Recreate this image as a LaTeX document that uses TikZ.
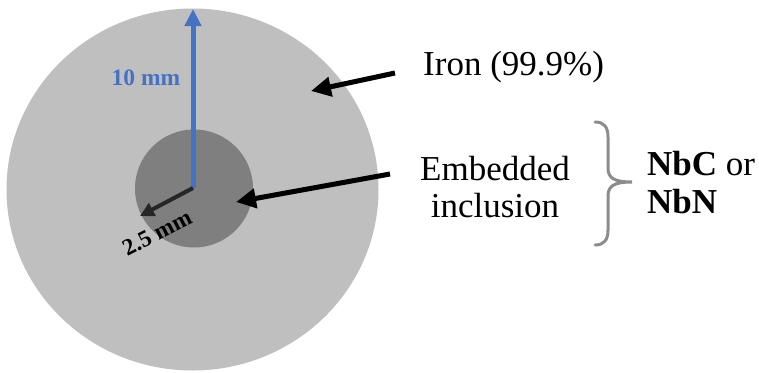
\documentclass[tikz,border=0pt]{standalone}
\usepackage{fontspec}
\setmainfont{Liberation Serif}
\usetikzlibrary{arrows.meta}
\definecolor{outergray}{HTML}{BFBFBF}
\definecolor{innergray}{HTML}{7F7F7F}
\definecolor{bracegray}{HTML}{8C8C8C}
\definecolor{dimblue}{HTML}{4472C4}
\begin{document}
\begin{tikzpicture}[x=1pt,y=-1pt,
  bigtext/.style={font=\fontsize{35}{37}\selectfont, inner sep=0pt},
  pointer/.style={line width=5pt, -{Triangle[length=20pt,width=19pt]}},
  dimtext/.style={font=\fontsize{23.5}{25}\selectfont\bfseries, inner sep=0pt}]
\useasboundingbox (0,0) rectangle (759,372);
% circles
\fill[outergray] (192.5,189.5) ellipse [x radius=186, y radius=181];
\node[circle, fill=innergray, minimum size=118pt, inner sep=0pt] (incl) at (194,188.5) {};
\coordinate (c) at (193,188);
\coordinate (top) at (193,9);
\coordinate (rim) at (140,216);
% dimensions
\draw[dimblue, line width=5pt, -{Triangle[length=17pt,width=16pt]}] (c) -- (top);
\draw[black!85, line width=4pt, -{Triangle[length=14pt,width=14pt]}] (c) -- (rim);
\node[dimtext, text=dimblue, anchor=base] (ten) at (146,85) {10 mm};
\node[dimtext, rotate=27] (twofive) at (157,233) {2.5 mm};
% labels
\node[bigtext, anchor=base west] (iron) at (423,75) {Iron (99.9\%)};
\node[bigtext, anchor=base] (emb) at (495,180) {Embedded};
\node[bigtext, anchor=base] (inc) at (495,217) {inclusion};
\node[bigtext, anchor=base west] (nbc) at (647,175) {\textbf{NbC} or};
\node[bigtext, anchor=base west] (nbn) at (647,213) {\textbf{NbN}};
% pointers
\coordinate (ironfrom) at (395,73);
\coordinate (ironto) at (311,91);
\coordinate (embfrom) at (390,174);
\coordinate (embto) at (236,202);
\draw[pointer] (ironfrom) -- (ironto);
\draw[pointer] (embfrom) -- (embto);
% brace
\draw[bracegray, line width=3pt, line cap=round]
  (595,122) .. controls (604,122) and (608,127) .. (608,137)
  -- (608,168) .. controls (608,178) and (614,182) .. (632,182)
  .. controls (614,182) and (608,186) .. (608,196)
  -- (608,230) .. controls (608,240) and (604,245) .. (595,245);
\end{tikzpicture}
\end{document}
